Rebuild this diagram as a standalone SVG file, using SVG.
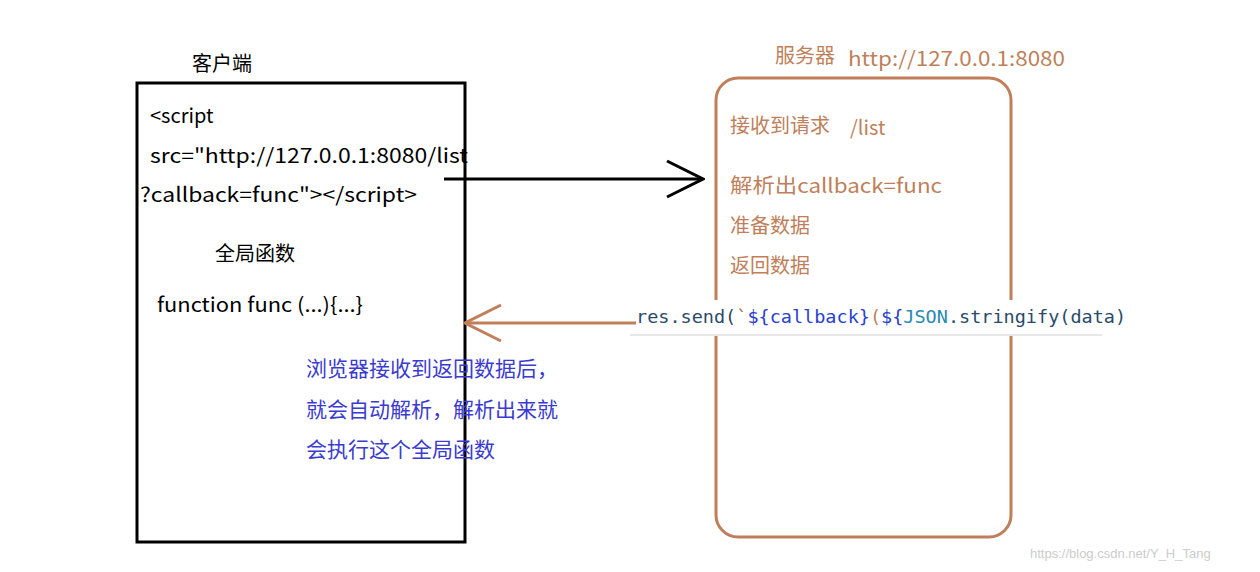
<svg xmlns="http://www.w3.org/2000/svg" width="1260" height="572" viewBox="0 0 1260 572">
<style>
.t{font-family:"Noto Sans CJK SC","Noto Sans",sans-serif;font-size:20px;fill:#000}
.b{font-family:"Noto Sans CJK SC","Noto Sans",sans-serif;font-size:20px;fill:#c07f5a}
.u{font-family:"Noto Sans CJK SC","Noto Sans",sans-serif;font-size:21px;fill:#3b3bd0}
.c{font-family:"DejaVu Sans Mono",monospace;font-size:18.5px}
</style>
<defs>
<marker id="ak" markerWidth="40" markerHeight="40" refX="38" refY="20" orient="auto" markerUnits="userSpaceOnUse"><path d="M2,2 L38,20 L2,38" fill="none" stroke="#000" stroke-width="3"/></marker>
<marker id="ab" markerWidth="40" markerHeight="40" refX="38" refY="20" orient="auto" markerUnits="userSpaceOnUse"><path d="M2,2 L38,20 L2,38" fill="none" stroke="#c07f5a" stroke-width="3"/></marker>
</defs>
<rect width="1260" height="572" fill="#fff"/>
<g id="client">
<rect x="137" y="83" width="328" height="459" fill="none" stroke="#000" stroke-width="3"/>
<text class="t" x="192" y="71">客户端</text>
<text class="t" x="150" y="123">&lt;script</text>
<text class="t" x="150" y="163" textLength="318" lengthAdjust="spacingAndGlyphs">src="http://127.0.0.1:8080/list</text>
<text class="t" x="140" y="202" textLength="277" lengthAdjust="spacingAndGlyphs">?callback=func"&gt;&lt;/script&gt;</text>
<text class="t" x="215" y="261">全局函数</text>
<text class="t" x="157" y="312" textLength="206" lengthAdjust="spacingAndGlyphs">function func (...){...}</text>
<text class="u" x="306" y="376">浏览器接收到返回数据后，</text>
<text class="u" x="306" y="417">就会自动解析，解析出来就</text>
<text class="u" x="306" y="457">会执行这个全局函数</text>
</g>
<g id="server">
<rect x="716" y="78" width="295" height="459" rx="22" fill="none" stroke="#c07f5a" stroke-width="3"/>
<text class="b" x="775" y="63">服务器</text>
<text class="b" x="848" y="66" textLength="217" lengthAdjust="spacingAndGlyphs">http://127.0.0.1:8080</text>
<text class="b" x="730" y="133">接收到请求</text>
<text class="b" x="850" y="135">/list</text>
<text class="b" x="730" y="193" textLength="212" lengthAdjust="spacingAndGlyphs">解析出callback=func</text>
<text class="b" x="730" y="233">准备数据</text>
<text class="b" x="730" y="273">返回数据</text>
</g>
<g id="code">
<rect x="630" y="300" width="472" height="36" fill="#fff"/>
<line x1="630" y1="335" x2="1102" y2="335" stroke="#e8e8e8" stroke-width="2"/>
<text class="c" x="636" y="323"><tspan fill="#2a4a6a">res.send(</tspan><tspan fill="#a06a3a">`</tspan><tspan fill="#2a40d0">${callback}</tspan><tspan fill="#c07f5a">(</tspan><tspan fill="#2a40d0">${</tspan><tspan fill="#2a8ab0">JSON</tspan><tspan fill="#2a4a6a">.stringify(data)</tspan></text>
</g>
<g id="connectors">
<line x1="444" y1="179" x2="703" y2="179" stroke="#000" stroke-width="3" marker-end="url(#ak)"/>
<line x1="636" y1="323" x2="465" y2="323" stroke="#c07f5a" stroke-width="3" marker-end="url(#ab)"/>
</g>
<text x="1030" y="558" font-family="Liberation Sans,sans-serif" font-size="13" fill="#ccc">https://blog.csdn.net/Y_H_Tang</text>
</svg>
